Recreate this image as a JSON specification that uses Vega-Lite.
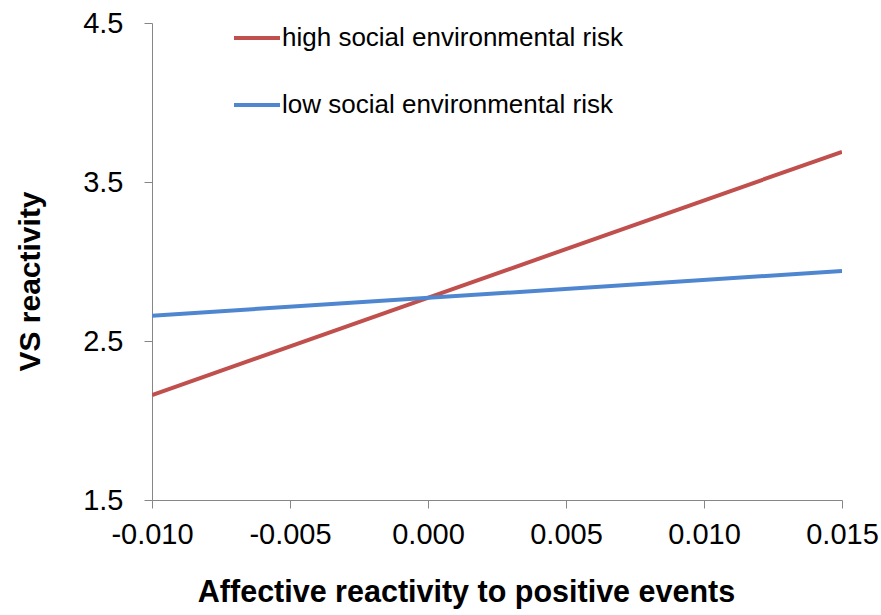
{
  "$schema": "https://vega.github.io/schema/vega-lite/v6.json",
  "width": 690,
  "height": 477,
  "autosize": "none",
  "padding": {"left": 152, "top": 23, "right": 39, "bottom": 115},
  "background": "white",
  "config": {
    "view": {"stroke": null},
    "font": "Liberation Sans",
    "axis": {"grid": false, "domainColor": "#868686", "tickColor": "#868686", "labelColor": "#000000", "titleColor": "#000000", "labelFont": "Liberation Sans", "titleFont": "Liberation Sans"}
  },
  "data": {
    "values": [
      {"x": -0.010, "y": 2.16, "group": "high social environmental risk"},
      {"x": 0.015, "y": 3.69, "group": "high social environmental risk"},
      {"x": -0.010, "y": 2.659, "group": "low social environmental risk"},
      {"x": 0.015, "y": 2.94, "group": "low social environmental risk"}
    ]
  },
  "mark": {"type": "line", "strokeWidth": 4, "clip": true},
  "encoding": {
    "x": {
      "field": "x", "type": "quantitative",
      "scale": {"domain": [-0.010, 0.015], "nice": false, "zero": false},
      "axis": {
        "title": "Affective reactivity to positive events",
        "values": [-0.010, -0.005, 0, 0.005, 0.010, 0.015],
        "labelExpr": "replace(format(datum.value, '.3f'), '\u2212', '-')",
        "labelFontSize": 29, "labelPadding": 12, "tickSize": 8,
        "titleFontSize": 30.5, "titleFontWeight": "bold",
        "titleX": 314, "titleY": 101, "titleBaseline": "alphabetic", "titleAlign": "center",
        "labelFlush": false, "labelOverlap": false
      }
    },
    "y": {
      "field": "y", "type": "quantitative",
      "scale": {"domain": [1.5, 4.5], "nice": false, "zero": false},
      "axis": {
        "title": "VS reactivity",
        "values": [1.5, 2.5, 3.5, 4.5],
        "format": ".1f",
        "labelFontSize": 29, "labelPadding": 21, "tickSize": 8,
        "titleFontSize": 30, "titleFontWeight": "bold",
        "titleX": -122, "titleY": 258, "titleAngle": -90, "titleBaseline": "middle", "titleAlign": "center",
        "labelFlush": false, "labelOverlap": false
      }
    },
    "color": {
      "field": "group", "type": "nominal",
      "scale": {"domain": ["high social environmental risk", "low social environmental risk"], "range": ["#C0504D", "#4F86D0"]},
      "legend": {
        "title": null, "orient": "none", "legendX": 80, "legendY": -10,
        "symbolType": "stroke", "symbolSize": 2116, "symbolStrokeWidth": 4,
        "labelFontSize": 26, "labelOffset": 0, "rowPadding": 29, "padding": 0, "labelLimit": 0,
        "labelColor": "#000000", "labelFont": "Liberation Sans"
      }
    }
  }
}
